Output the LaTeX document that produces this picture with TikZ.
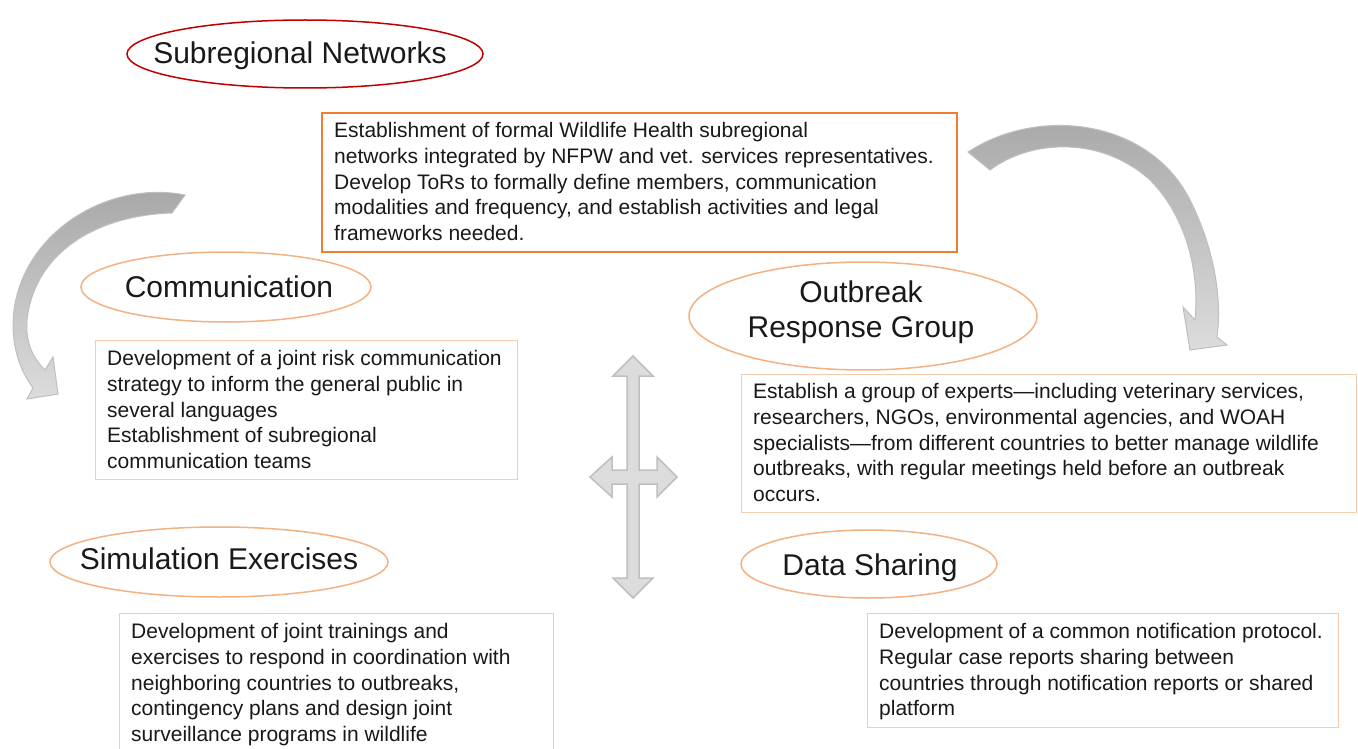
\documentclass[tikz,border=0pt]{standalone}
\usepackage{fontspec}
\setmainfont{Liberation Sans}
\usepackage{tikz}
\definecolor{netred}{HTML}{C00000}
\definecolor{peach}{HTML}{F4B183}
\definecolor{boxpeach}{HTML}{F8CBAD}
\definecolor{netorange}{HTML}{ED7D31}
\definecolor{arrowdark}{HTML}{A6A6A6}
\definecolor{arrowlight}{HTML}{DCDCDC}
\definecolor{arrowedge}{HTML}{BFBFBF}

\begin{document}
\begin{tikzpicture}[x=1pt,y=-1pt,
    titlefont/.style={font=\fontsize{30}{35}\selectfont, inner sep=0pt, text=black!90},
    title/.style={titlefont, text height=22pt, text depth=6.5pt},
    ring/.style={draw=peach, line width=1.5pt},
    infobox/.style={draw=boxpeach, line width=1pt, anchor=north west, inner sep=0pt},
    infotext/.style={font=\fontsize{21}{25.8}\selectfont, align=left, anchor=north west, inner sep=0pt, text=black!90},
    bigarrow/.style={draw=arrowedge, line width=1pt, top color=arrowdark, bottom color=arrowlight}]
    \useasboundingbox[fill=white] (0,0) rectangle (1358,749);

    % curved arrows
    \draw [bigarrow] (185,195) .. controls (110,180) and (25,230) .. (14,310)
        .. controls (10,345) and (20,370) .. (33,388)
        -- (27,399) -- (58,394) -- (53,357) -- (45,370)
        .. controls (35,360) and (25,345) .. (27,320)
        .. controls (35,250) and (100,215) .. (172,213) -- cycle;
    \draw [bigarrow] (968,152) .. controls (1040,105) and (1150,120) .. (1190,200)
        .. controls (1215,250) and (1222,300) .. (1217,337)
        -- (1227,345) -- (1190,350) -- (1183,307) -- (1195,320)
        .. controls (1200,270) and (1185,215) .. (1150,180)
        .. controls (1100,135) and (1030,140) .. (990,170) -- cycle;

    % cross arrow
    \draw [draw=arrowedge, fill=arrowlight, line width=1.5pt, line join=miter]
        (633,356) -- (653,376) -- (639,376) -- (639,470) -- (657,470) -- (657,457)
        -- (677,477) -- (657,497) -- (657,484) -- (639,484) -- (639,578) -- (653,578)
        -- (633,598) -- (613,578) -- (627,578) -- (627,484) -- (612,484) -- (612,497)
        -- (590,477) -- (612,457) -- (612,470) -- (627,470) -- (627,376) -- (613,376) -- cycle;

    % titles
    \node [title] (subnet) at (300,55.5) {Subregional Networks};
    \draw [ring, draw=netred] (305,54) ellipse [x radius=178pt, y radius=34pt];

    \node [title] (comm) at (229,290) {Communication};
    \draw [ring] (226,287) ellipse [x radius=145pt, y radius=35pt];

    \node [titlefont, align=center] (outbreak) at (861,312) {Outbreak\\Response Group};
    \draw [ring] (863,316) ellipse [x radius=174pt, y radius=54pt];

    \node [title] (simul) at (219,562) {Simulation Exercises};
    \draw [ring] (219,562) ellipse [x radius=169pt, y radius=35pt];

    \node [title] (datash) at (870,568) {Data Sharing};
    \draw [ring] (869,564) ellipse [x radius=128pt, y radius=34pt];

    % boxes
    \node [infobox, draw=netorange, line width=2pt, minimum width=635pt, minimum height=139pt] (netbox) at (321,112) {};
    \node [infotext] (nettext) at ([xshift=13pt,yshift=-10pt]netbox.north west)
        {Establishment of formal Wildlife Health subregional\\
         networks integrated by NFPW and vet. services representatives.\\
         Develop ToRs to formally define members, communication\\
         modalities and frequency, and establish activities and legal\\
         frameworks needed.};

    \node [infobox, minimum width=422pt, minimum height=139pt] (commbox) at (95,340) {};
    \node [infotext] (commtext) at ([xshift=12pt,yshift=-10pt]commbox.north west)
        {Development of a joint risk communication\\
         strategy to inform the general public in\\
         several languages\\
         Establishment of subregional\\
         communication teams};

    \node [infobox, minimum width=615pt, minimum height=138pt] (outbox) at (741,374) {};
    \node [infotext] (outtext) at ([xshift=12pt,yshift=-9pt]outbox.north west)
        {Establish a group of experts—including veterinary services,\\
         researchers, NGOs, environmental agencies, and WOAH\\
         specialists—from different countries to better manage wildlife\\
         outbreaks, with regular meetings held before an outbreak\\
         occurs.};

    \node [infobox, minimum width=434pt, minimum height=150pt] (simbox) at (119,613) {};
    \node [infotext] (simtext) at ([xshift=12pt,yshift=-10pt]simbox.north west)
        {Development of joint trainings and\\
         exercises to respond in coordination with\\
         neighboring countries to outbreaks,\\
         contingency plans and design joint\\
         surveillance programs in wildlife};

    \node [infobox, minimum width=471pt, minimum height=114pt] (databox) at (867,613) {};
    \node [infotext] (datatext) at ([xshift=12pt,yshift=-10pt]databox.north west)
        {Development of a common notification protocol.\\
         Regular case reports sharing between\\
         countries through notification reports or shared\\
         platform};
\end{tikzpicture}
\end{document}
